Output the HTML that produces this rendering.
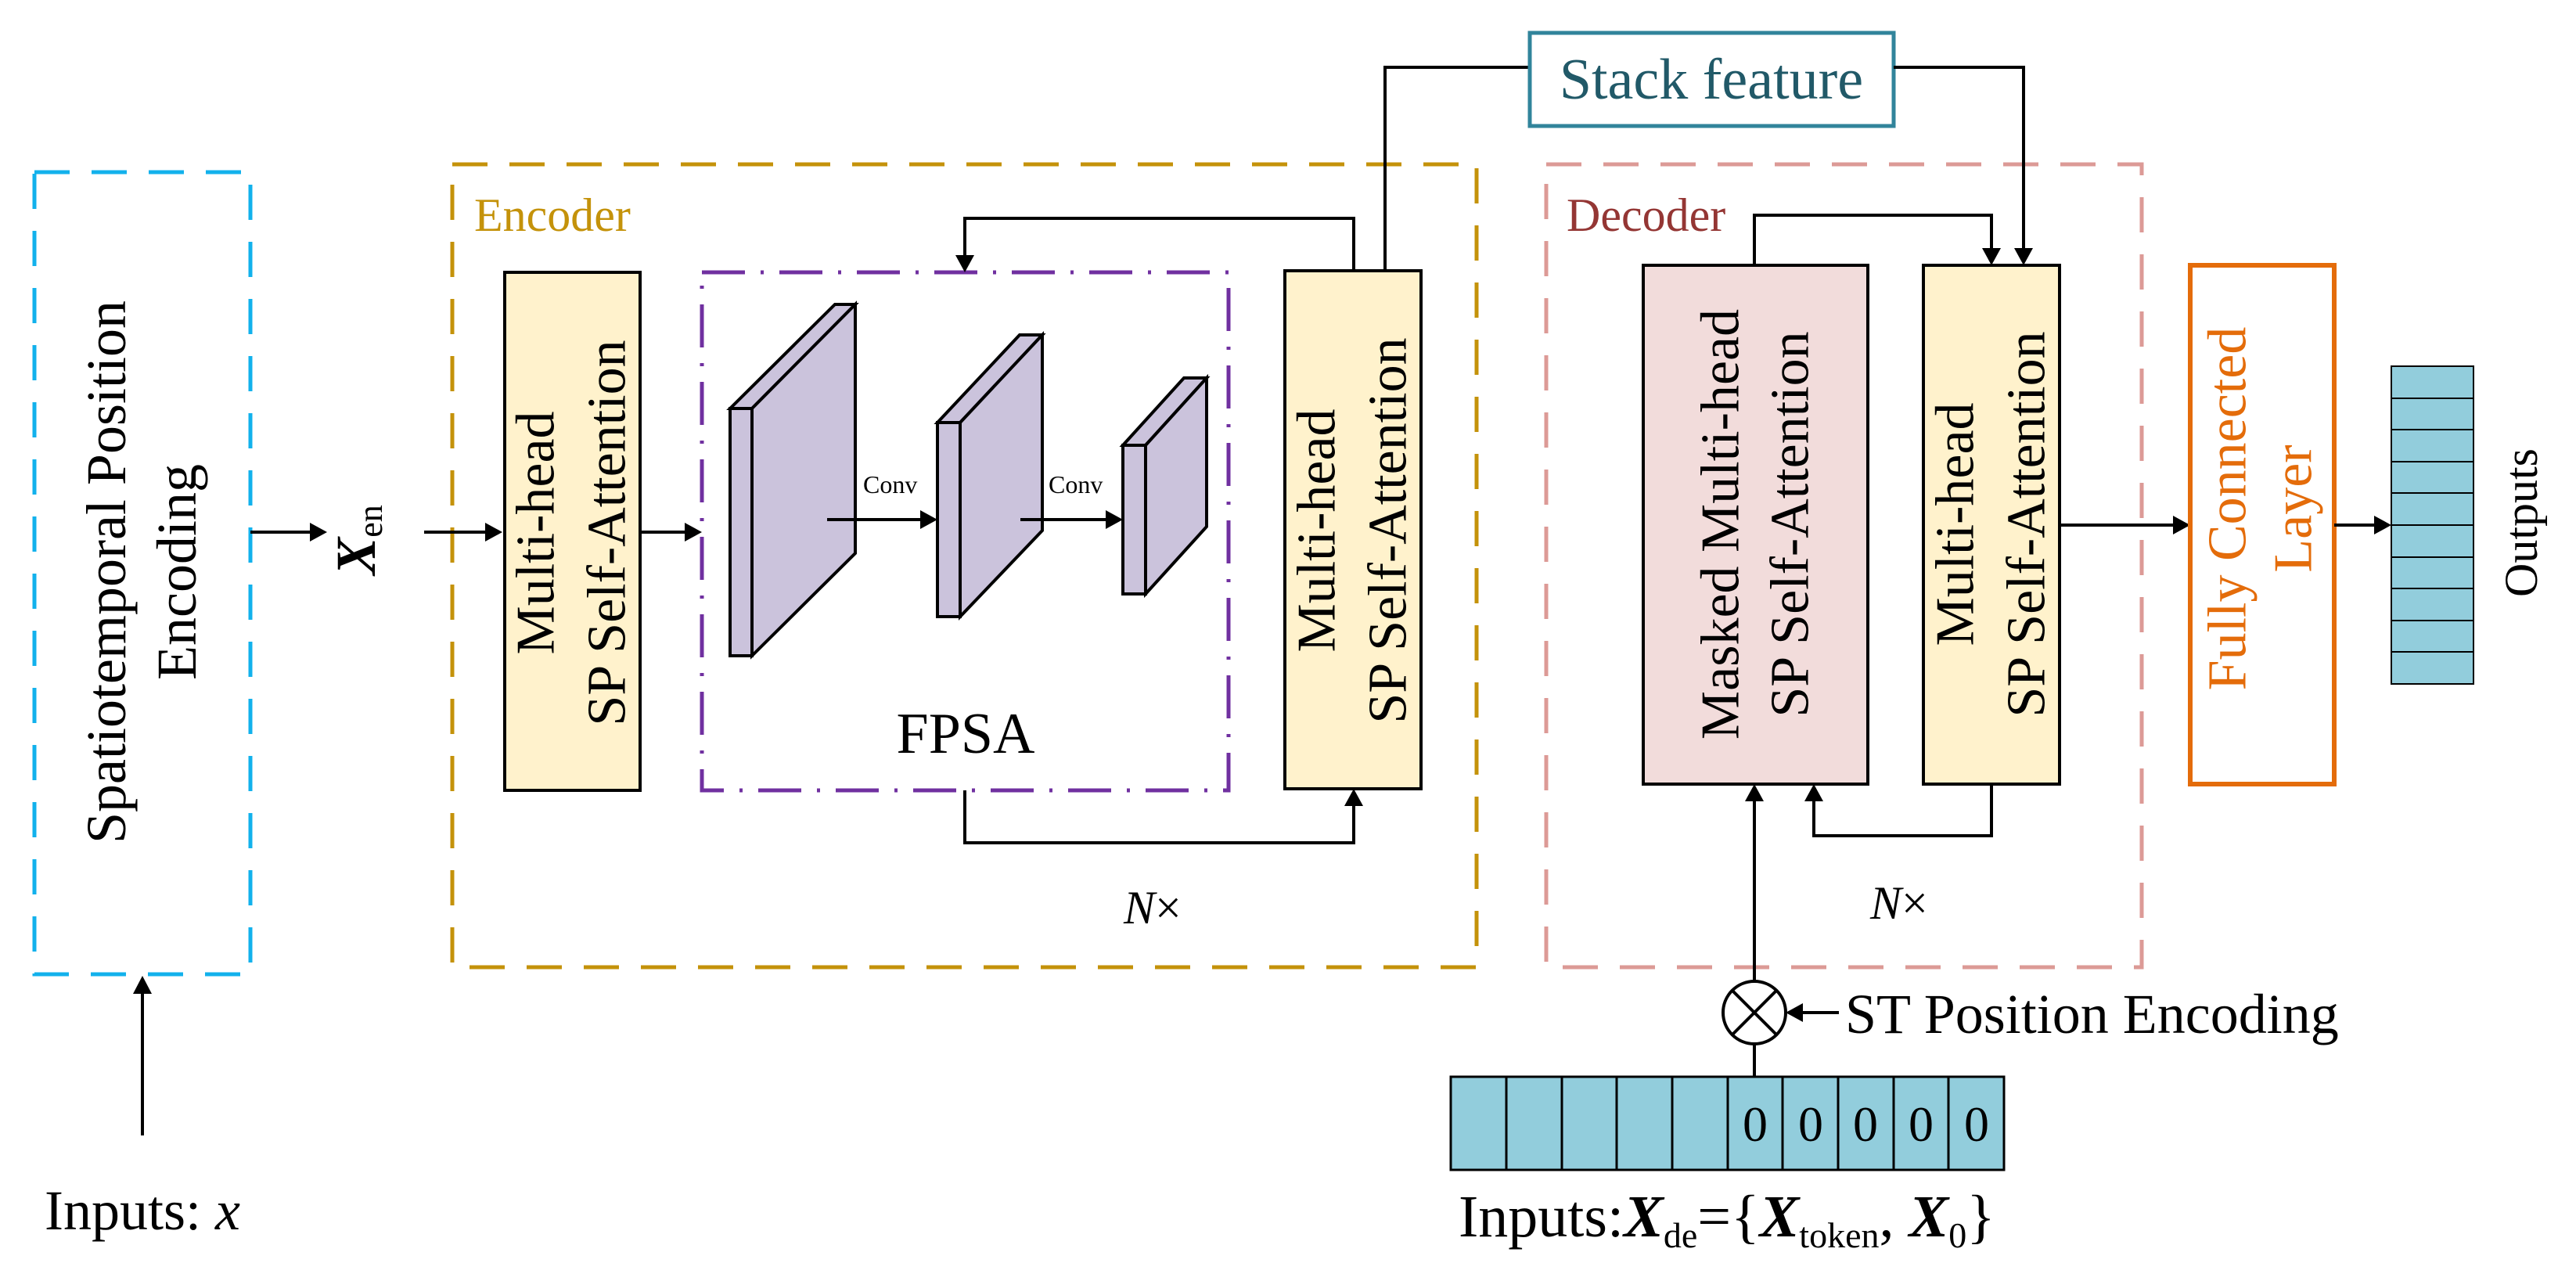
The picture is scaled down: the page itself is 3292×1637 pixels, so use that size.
<!DOCTYPE html>
<html><head><meta charset="utf-8"><style>html,body{margin:0;padding:0;background:#fff}svg{display:block}</style></head>
<body>
<svg width="3292" height="1637" viewBox="0 0 3292 1637" xmlns="http://www.w3.org/2000/svg" font-family="Liberation Serif, serif">
<rect width="3292" height="1637" fill="#fff"/>
<!-- dashed containers -->
<rect x="44" y="220" width="276" height="1025" fill="none" stroke="#12b1ec" stroke-width="5" stroke-dasharray="45 28"/>
<rect x="578" y="210" width="1309" height="1026" fill="none" stroke="#c4920a" stroke-width="5" stroke-dasharray="45 28"/>
<rect x="1976" y="210" width="761" height="1026" fill="none" stroke="#dc9a96" stroke-width="5" stroke-dasharray="45 28"/>
<rect x="897" y="348" width="673" height="662" fill="none" stroke="#7030a0" stroke-width="5" stroke-dasharray="55 20 4 20"/>
<text x="606" y="295" font-size="60" fill="#c4920a">Encoder</text>
<text x="2002" y="295" font-size="60" fill="#943634">Decoder</text>

<!-- spatiotemporal -->
<g transform="translate(182,731) rotate(-90)" font-size="72" text-anchor="middle" dominant-baseline="central">
<text x="0" y="-46">Spatiotemporal Position</text><text x="0" y="44">Encoding</text></g>
<line x1="182" y1="1451" x2="182" y2="1265" stroke="#000" stroke-width="4"/>
<polygon points="182,1247 170,1270 194,1270" fill="#000"/>
<text x="182" y="1571" font-size="72" text-anchor="middle">Inputs: <tspan font-style="italic">x</tspan></text>

<!-- Xen -->
<line x1="320" y1="680" x2="398" y2="680" stroke="#000" stroke-width="4"/>
<polygon points="418,680 396,668 396,692" fill="#000"/>
<g transform="translate(455,690) rotate(-90)"><text x="0" y="0" font-size="72" font-weight="bold" font-style="italic" text-anchor="middle" dominant-baseline="central">X<tspan font-size="44" font-weight="normal" font-style="normal" dy="18">en</tspan></text></g>
<line x1="542" y1="680" x2="622" y2="680" stroke="#000" stroke-width="4"/>
<polygon points="642,680 620,668 620,692" fill="#000"/>

<!-- MHSA1 -->
<rect x="645" y="348" width="173" height="662" fill="#fff2cc" stroke="#000" stroke-width="4"/>
<g transform="translate(731,681) rotate(-90)" font-size="70" text-anchor="middle" dominant-baseline="central">
<text x="0" y="-46">Multi-head</text><text x="0" y="45">SP Self-Attention</text></g>
<line x1="818" y1="680" x2="877" y2="680" stroke="#000" stroke-width="4"/>
<polygon points="897,680 875,668 875,692" fill="#000"/>

<!-- cuboids -->
<g fill="#cbc3dc" stroke="#000" stroke-width="4" stroke-linejoin="miter">
<polygon points="933,522 1067,389 1093,389 961,522"/>
<polygon points="961,522 1093,389 1093,707 961,838"/>
<rect x="933" y="522" width="28" height="316"/>
<polygon points="1198,540 1303,428 1332,428 1227,540"/>
<polygon points="1227,540 1332,428 1332,678 1227,788"/>
<rect x="1198" y="540" width="29" height="248"/>
<polygon points="1435,569 1513,483 1542,483 1464,569"/>
<polygon points="1464,569 1542,483 1542,673 1464,759"/>
<rect x="1435" y="569" width="29" height="190"/>
</g>
<line x1="1057" y1="664" x2="1178" y2="664" stroke="#000" stroke-width="4"/>
<polygon points="1198,664 1176,652 1176,676" fill="#000"/>
<line x1="1304" y1="664" x2="1415" y2="664" stroke="#000" stroke-width="4"/>
<polygon points="1435,664 1413,652 1413,676" fill="#000"/>
<text x="1103" y="630" font-size="32">Conv</text>
<text x="1340" y="630" font-size="32">Conv</text>
<text x="1234" y="962" font-size="74" text-anchor="middle">FPSA</text>

<!-- MHSA2 -->
<rect x="1642" y="346" width="174" height="662" fill="#fff2cc" stroke="#000" stroke-width="4"/>
<g transform="translate(1729,678) rotate(-90)" font-size="70" text-anchor="middle" dominant-baseline="central">
<text x="0" y="-46">Multi-head</text><text x="0" y="45">SP Self-Attention</text></g>
<polyline points="1730,346 1730,279 1233,279 1233,326" fill="none" stroke="#000" stroke-width="4"/>
<polygon points="1233,348 1221,326 1245,326" fill="#000"/>
<polyline points="1233,1010 1233,1077 1730,1077 1730,1030" fill="none" stroke="#000" stroke-width="4"/>
<polygon points="1730,1008 1718,1030 1742,1030" fill="#000"/>
<text x="1436" y="1180" font-size="60"><tspan font-style="italic">N</tspan>×</text>

<!-- stack feature -->
<polyline points="1770,346 1770,86 1955,86" fill="none" stroke="#000" stroke-width="4"/>
<rect x="1955" y="42" width="465" height="119" fill="#fff" stroke="#31849b" stroke-width="5"/>
<text x="2187" y="126" font-size="74" fill="#215968" text-anchor="middle">Stack feature</text>
<polyline points="2420,86 2586,86 2586,317" fill="none" stroke="#000" stroke-width="4"/>
<polygon points="2586,339 2574,317 2598,317" fill="#000"/>

<!-- decoder boxes -->
<rect x="2100" y="339" width="287" height="663" fill="#f2dcdb" stroke="#000" stroke-width="4"/>
<g transform="translate(2243,670) rotate(-90)" font-size="70" text-anchor="middle" dominant-baseline="central">
<text x="0" y="-44">Masked Multi-head</text><text x="0" y="45">SP Self-Attention</text></g>
<rect x="2458" y="339" width="174" height="663" fill="#fff2cc" stroke="#000" stroke-width="4"/>
<g transform="translate(2545,670) rotate(-90)" font-size="70" text-anchor="middle" dominant-baseline="central">
<text x="0" y="-46">Multi-head</text><text x="0" y="45">SP Self-Attention</text></g>
<polyline points="2242,339 2242,275 2545,275 2545,317" fill="none" stroke="#000" stroke-width="4"/>
<polygon points="2545,339 2533,317 2557,317" fill="#000"/>
<polyline points="2545,1002 2545,1068 2318,1068 2318,1024" fill="none" stroke="#000" stroke-width="4"/>
<polygon points="2318,1002 2306,1024 2330,1024" fill="#000"/>
<line x1="2242" y1="1254" x2="2242" y2="1024" stroke="#000" stroke-width="4"/>
<polygon points="2242,1002 2230,1024 2254,1024" fill="#000"/>
<text x="2390" y="1174" font-size="60"><tspan font-style="italic">N</tspan>×</text>

<!-- circle -->
<circle cx="2242" cy="1294" r="40" fill="#fff" stroke="#000" stroke-width="4"/>
<line x1="2214" y1="1266" x2="2270" y2="1322" stroke="#000" stroke-width="4"/>
<line x1="2270" y1="1266" x2="2214" y2="1322" stroke="#000" stroke-width="4"/>
<line x1="2350" y1="1294" x2="2302" y2="1294" stroke="#000" stroke-width="4"/>
<polygon points="2282,1294 2304,1282 2304,1306" fill="#000"/>
<text x="2358" y="1320" font-size="72">ST Position Encoding</text>
<line x1="2242" y1="1334" x2="2242" y2="1376" stroke="#000" stroke-width="4"/>

<!-- input array -->
<g stroke="#000" stroke-width="3" fill="#92cddc">
<rect x="1854" y="1376" width="707" height="119"/>
<line x1="1925" y1="1376" x2="1925" y2="1495"/><line x1="1996" y1="1376" x2="1996" y2="1495"/>
<line x1="2066" y1="1376" x2="2066" y2="1495"/><line x1="2137" y1="1376" x2="2137" y2="1495"/>
<line x1="2208" y1="1376" x2="2208" y2="1495"/><line x1="2278" y1="1376" x2="2278" y2="1495"/>
<line x1="2349" y1="1376" x2="2349" y2="1495"/><line x1="2420" y1="1376" x2="2420" y2="1495"/>
<line x1="2490" y1="1376" x2="2490" y2="1495"/>
</g>
<g font-size="64" text-anchor="middle">
<text x="2243" y="1458">0</text><text x="2314" y="1458">0</text><text x="2384" y="1458">0</text><text x="2455" y="1458">0</text><text x="2526" y="1458">0</text></g>
<text x="1864" y="1580" font-size="76">Inputs:<tspan font-weight="bold" font-style="italic">X</tspan><tspan font-size="46" dy="14">de</tspan><tspan dy="-14">={</tspan><tspan font-weight="bold" font-style="italic">X</tspan><tspan font-size="46" dy="14">token</tspan><tspan dy="-14">, </tspan><tspan font-weight="bold" font-style="italic">X</tspan><tspan font-size="46" dy="14">0</tspan><tspan dy="-14">}</tspan></text>

<!-- FC -->
<line x1="2632" y1="671" x2="2779" y2="671" stroke="#000" stroke-width="4"/>
<polygon points="2799,671 2777,659 2777,683" fill="#000"/>
<rect x="2799" y="339" width="184" height="663" fill="#fff" stroke="#e46c0a" stroke-width="6"/>
<g transform="translate(2891,650) rotate(-90)" font-size="70" fill="#e46c0a" text-anchor="middle" dominant-baseline="central">
<text x="0" y="-44" fill="#e46c0a">Fully Connected</text><text x="0" y="40" fill="#e46c0a">Layer</text></g>
<line x1="2983" y1="671" x2="3036" y2="671" stroke="#000" stroke-width="4"/>
<polygon points="3056,671 3034,659 3034,683" fill="#000"/>

<!-- outputs -->
<g stroke="#000" stroke-width="2" fill="#92cddc">
<rect x="3056" y="468" width="105" height="406"/>
<line x1="3056" y1="509" x2="3161" y2="509"/><line x1="3056" y1="549" x2="3161" y2="549"/>
<line x1="3056" y1="590" x2="3161" y2="590"/><line x1="3056" y1="630" x2="3161" y2="630"/>
<line x1="3056" y1="671" x2="3161" y2="671"/><line x1="3056" y1="712" x2="3161" y2="712"/>
<line x1="3056" y1="752" x2="3161" y2="752"/><line x1="3056" y1="793" x2="3161" y2="793"/>
<line x1="3056" y1="833" x2="3161" y2="833"/>
</g>
<g transform="translate(3222,668) rotate(-90)"><text x="0" y="0" font-size="60" text-anchor="middle" dominant-baseline="central">Outputs</text></g>
</svg>
</body></html>
